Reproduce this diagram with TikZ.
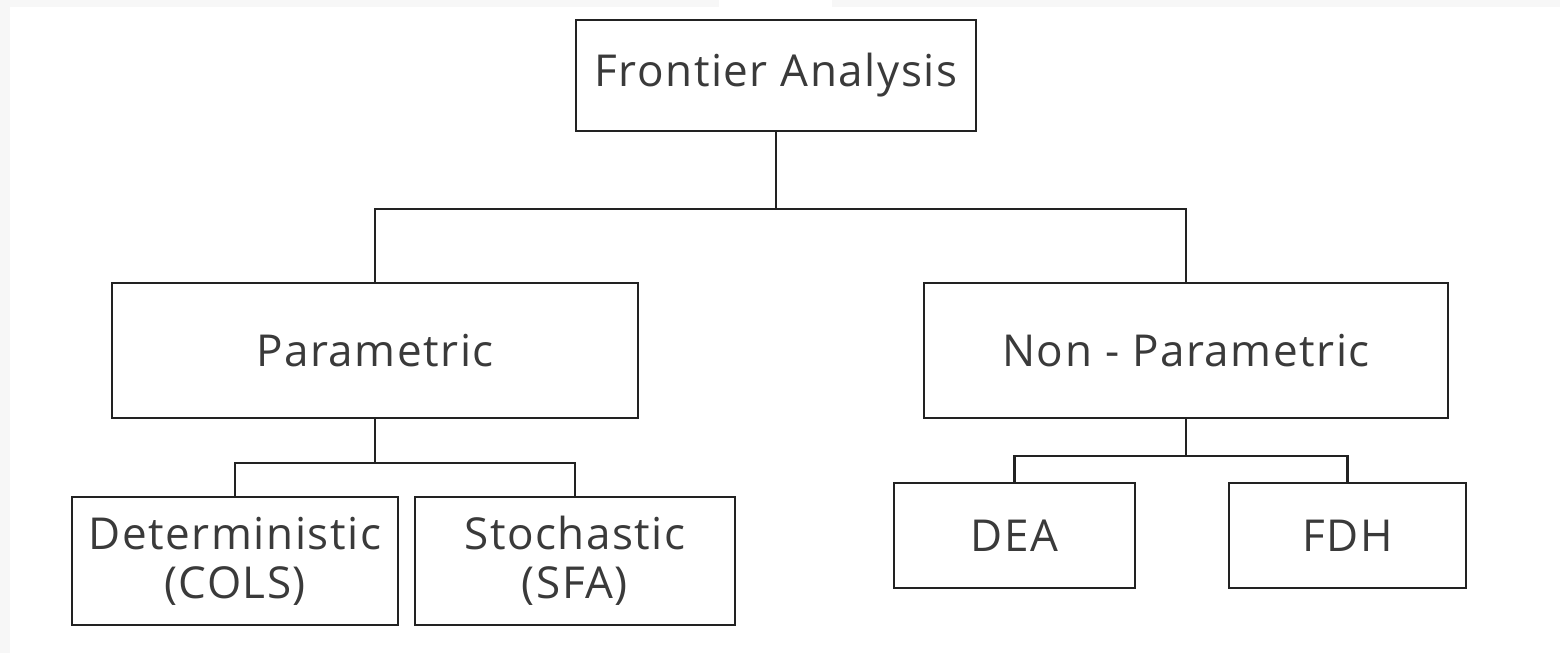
\documentclass[tikz,border=0pt]{standalone}
\usepackage{fontspec}
\setmainfont[LetterSpace=3.5]{Open Sans}
\definecolor{ink}{HTML}{222222}
\definecolor{txt}{HTML}{3A3A3A}
\definecolor{frame}{HTML}{F7F7F7}
\begin{document}
\begin{tikzpicture}[x={(0.5pt,0)}, y={(0,-0.5pt)},
  box/.style={draw=ink, line width=1.2pt, fill=white, text=txt,
    font=\fontsize{22}{24.5}\selectfont, align=center, inner sep=0pt},
  link/.style={draw=ink, line width=1.2pt}]
  % page background and its light frame
  \fill[frame] (0,0) rectangle (1560,653);
  \fill[white] (10,7) rectangle (1560,653);
  \fill[white] (719,0) rectangle (832,20);
  \useasboundingbox (0,0) rectangle (1560,653);

  % tree nodes
  \node[box, minimum width=200pt, minimum height=55.5pt] (top) at (776,75.5) {Frontier Analysis};
  \node[box, minimum width=263pt, minimum height=67.5pt] (par) at (375,350.5) {Parametric};
  \node[box, minimum width=262pt, minimum height=67.5pt] (npar) at (1186,350.5) {Non - Parametric};
  \node[box, minimum width=163pt, minimum height=64pt] (det) at (235,561) {Deterministic\\(COLS)};
  \node[box, minimum width=160pt, minimum height=64pt] (sto) at (575,561) {Stochastic\\(SFA)};
  \node[box, minimum width=120.5pt, minimum height=52.5pt] (dea) at (1014.5,535.5) {DEA};
  \node[box, minimum width=118.5pt, minimum height=52.5pt] (fdh) at (1347.5,535.5) {FDH};

  % elbow connectors
  \draw[link] (top.south) -- ++(0,77) -| (par.north);
  \draw[link] (top.south) -- ++(0,77) -| (npar.north);
  \draw[link] (par.south) -- ++(0,44) -| (det.north);
  \draw[link] (par.south) -- ++(0,44) -| (sto.north);
  \draw[link] (npar.south) -- ++(0,37) -| (dea.north);
  \draw[link] (npar.south) -- ++(0,37) -| (fdh.north);
\end{tikzpicture}
\end{document}
